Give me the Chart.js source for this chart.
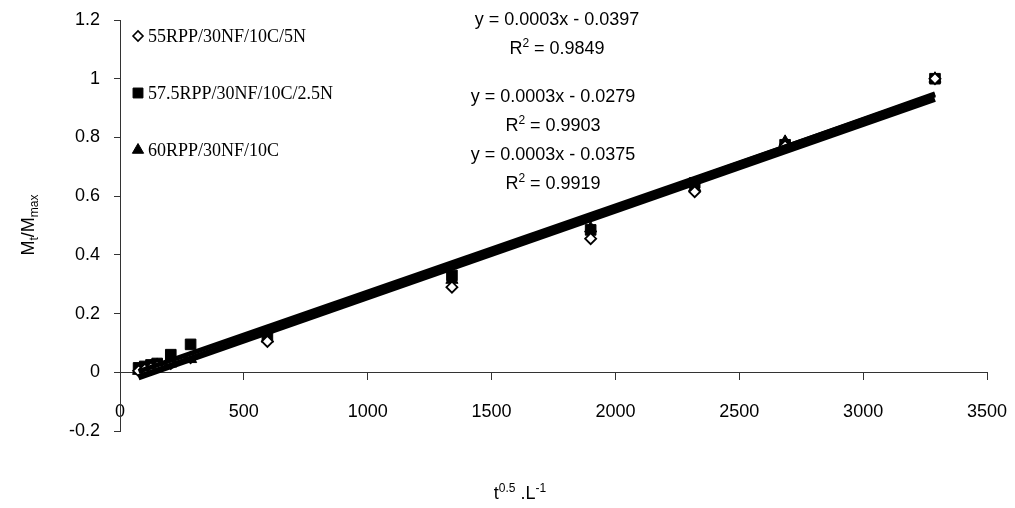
<!DOCTYPE html>
<html>
<head>
<meta charset="utf-8">
<script src="https://cdn.jsdelivr.net/npm/chart.js@4.4.1/dist/chart.umd.min.js"></script>
<style>
  html, body { margin: 0; padding: 0; background: #fff; }
  #wrap { width: 1015px; height: 508px; position: relative; }
</style>
</head>
<body>
<div id="wrap"><canvas id="c" width="1015" height="508"></canvas></div>
<script>
// ---- data ----
const xValues = [75, 100, 125, 150, 205, 285, 595, 1340, 1900, 2320, 2685, 3290];
const series1Label = '55RPP/30NF/10C/5N';
const series1Y = [0.005, 0.01, 0.015, 0.02, 0.03, 0.05, 0.105, 0.29, 0.455, 0.615, 0.77, 1.0];
const series2Label = '57.5RPP/30NF/10C/2.5N';
const series2Y = [0.015, 0.02, 0.025, 0.03, 0.06, 0.095, 0.12, 0.33, 0.485, 0.645, 0.775, 1.0];
const series3Label = '60RPP/30NF/10C';
const series3Y = [0.005, 0.01, 0.02, 0.025, 0.03, 0.045, 0.115, 0.315, 0.49, 0.63, 0.785, 1.0];
const equationTexts = ['y = 0.0003x - 0.0397', 'y = 0.0003x - 0.0279', 'y = 0.0003x - 0.0375'];
const r2Texts = ['0.9849', '0.9903', '0.9919'];
const yTicks = [-0.2, 0, 0.2, 0.4, 0.6, 0.8, 1, 1.2];
const xTicks = [0, 500, 1000, 1500, 2000, 2500, 3000, 3500];

function toPoints(xs, ys) { return xs.map((x, i) => ({ x: x, y: ys[i] })); }
function fitLine(xs, ys) {
  const n = xs.length;
  const mx = xs.reduce((a, b) => a + b, 0) / n;
  const my = ys.reduce((a, b) => a + b, 0) / n;
  let sxy = 0, sxx = 0;
  for (let i = 0; i < n; i++) { sxy += (xs[i] - mx) * (ys[i] - my); sxx += (xs[i] - mx) ** 2; }
  const m = sxy / sxx;
  const b = my - m * mx;
  const x0 = Math.min(...xs), x1 = Math.max(...xs);
  return [{ x: x0, y: m * x0 + b }, { x: x1, y: m * x1 + b }];
}

const SANS = '"Liberation Sans", Arial, sans-serif';
const SERIF = '"Liberation Serif", "Times New Roman", serif';

function trend(ys) {
  return { type: 'line', data: fitLine(xValues, ys), borderColor: '#000', borderWidth: 5,
    pointRadius: 0, fill: false, order: 0, borderCapStyle: 'butt' };
}

function richWidth(ctx, segs, size) {
  let w = 0;
  segs.forEach(s => {
    ctx.font = (s[1] === 'n' ? size : Math.round(size * 0.65)) + 'px ' + SANS;
    w += ctx.measureText(s[0]).width;
  });
  return w;
}
function drawRich(ctx, segs, cx, by, size) {
  const w = richWidth(ctx, segs, size);
  let x = cx - w / 2;
  ctx.textAlign = 'left';
  ctx.textBaseline = 'alphabetic';
  segs.forEach(s => {
    let dy = 0;
    if (s[1] === 'n') ctx.font = size + 'px ' + SANS;
    else {
      ctx.font = Math.round(size * 0.65) + 'px ' + SANS;
      dy = s[1] === 'sup' ? -size * 0.38 : size * 0.22;
    }
    ctx.fillText(s[0], x, by + dy);
    x += ctx.measureText(s[0]).width;
  });
}

const overlay = {
  id: 'overlay',
  afterDraw(chart) {
    const ctx = chart.ctx;
    ctx.save();
    ctx.fillStyle = '#000';
    const eqY = [25, 102, 160];
    equationTexts.forEach((t, i) => {
      const cx = i === 0 ? 557 : 553;
      drawRich(ctx, [[t, 'n']], cx, eqY[i], 18);
      drawRich(ctx, [['R', 'n'], ['2', 'sup'], [' = ' + r2Texts[i], 'n']], cx, eqY[i] + 29, 18);
    });
    drawRich(ctx, [['t', 'n'], ['0.5', 'sup'], [' .L', 'n'], ['-1', 'sup']], 520, 499, 18);
    ctx.save();
    ctx.translate(34, 225);
    ctx.rotate(-Math.PI / 2);
    drawRich(ctx, [['M', 'n'], ['t', 'sub'], ['/M', 'n'], ['max', 'sub']], 0, 0, 18);
    ctx.restore();
    const items = [
      { label: series1Label, style: 'rectRot', r: 5, fill: '#fff', lw: 1.6 },
      { label: series2Label, style: 'rect', r: 7, fill: '#000', lw: 1 },
      { label: series3Label, style: 'triangle', r: 6.5, fill: '#000', lw: 1 }
    ];
    const ly = [36, 93, 150];
    items.forEach((it, i) => {
      ctx.fillStyle = it.fill;
      ctx.strokeStyle = '#000';
      ctx.lineWidth = it.lw;
      Chart.helpers.drawPoint(ctx, { pointStyle: it.style, radius: it.r, borderWidth: it.lw, rotation: 0 }, 138, ly[i]);
      ctx.fillStyle = '#000';
      ctx.font = '18px ' + SERIF;
      ctx.textAlign = 'left';
      ctx.textBaseline = 'middle';
      ctx.fillText(it.label, 148, ly[i] + 1);
    });
    ctx.restore();
  }
};

new Chart(document.getElementById('c'), {
  type: 'scatter',
  data: {
    datasets: [
      trend(series1Y), trend(series2Y), trend(series3Y),
      { label: series1Label, data: toPoints(xValues, series1Y), pointStyle: 'rectRot', pointRadius: 5.5,
        backgroundColor: '#fff', borderColor: '#000', borderWidth: 1.8, order: 1 },
      { label: series2Label, data: toPoints(xValues, series2Y), pointStyle: 'rect', pointRadius: 7.5,
        backgroundColor: '#000', borderColor: '#000', borderWidth: 1, order: 1 },
      { label: series3Label, data: toPoints(xValues, series3Y), pointStyle: 'triangle', pointRadius: 7,
        backgroundColor: '#000', borderColor: '#000', borderWidth: 1, order: 1 }
    ]
  },
  options: {
    responsive: false,
    animation: false,
    events: [],
    layout: { padding: { left: 0, top: 20, right: 28, bottom: 77 } },
    plugins: { legend: { display: false }, tooltip: { enabled: false } },
    scales: {
      x: {
        type: 'linear', min: 0, max: 3500, position: { y: 0 },
        afterBuildTicks: s => { s.ticks = xTicks.map(v => ({ value: v })); },
        afterFit: s => { s.height = 30; s.paddingRight = 0; s.paddingLeft = 0; },
        grid: { display: true, drawOnChartArea: false, drawTicks: true, tickLength: 7, color: '#333', tickColor: '#333' },
        border: { display: true, color: '#333', width: 1 },
        ticks: { font: { family: SANS, size: 18 }, color: '#000', padding: 22, maxRotation: 0,
          callback: v => String(v) }
      },
      y: {
        type: 'linear', min: -0.2, max: 1.2,
        afterBuildTicks: s => { s.ticks = yTicks.map(v => ({ value: v })); },
        afterFit: s => { s.width = 120; s.paddingTop = 0; s.paddingBottom = 0; },
        grid: { display: true, drawOnChartArea: false, drawTicks: true, tickLength: 6, color: '#333', tickColor: '#333' },
        border: { display: true, color: '#333', width: 1 },
        ticks: { font: { family: SANS, size: 18 }, color: '#000', padding: 14,
          callback: v => String(Math.round(v * 10) / 10) }
      }
    }
  },
  plugins: [overlay]
});
</script>
</body>
</html>
